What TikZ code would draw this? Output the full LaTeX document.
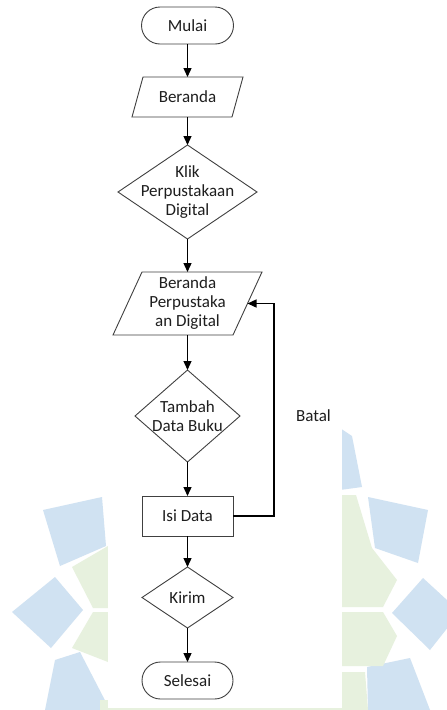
\documentclass[tikz,border=0pt]{standalone}
\usepackage{fontspec}
\setmainfont{Carlito}
\usetikzlibrary{shapes.geometric,shapes.misc,arrows.meta}
\definecolor{wmblue}{RGB}{208,226,242}
\definecolor{wmgreen}{RGB}{231,241,222}
\definecolor{outline}{RGB}{64,64,64}
\definecolor{ink}{RGB}{30,30,30}
\begin{document}
\begin{tikzpicture}[x=1pt,y=-1pt,
  txt/.style={font=\fontsize{17}{19}\selectfont, text=ink, align=center, inner sep=0pt},
  shapebase/.style={draw=outline, line width=0.9pt, fill=white, inner sep=0pt, outer sep=0pt},
  terminal/.style={shapebase, rounded rectangle, minimum width=92pt, minimum height=37pt},
  process/.style={shapebase, rectangle, minimum width=91pt, minimum height=40pt},
  decision/.style={shapebase, diamond},
  % body of a data box: the rectangle spans the mid-height width of the parallelogram
  iobody/.style={inner sep=0pt, outer sep=0pt, draw=none},
  ioline/.style={draw=outline, line width=0.9pt, fill=white},
  flow/.style={draw=black, line width=1.3pt, -{Triangle[length=9pt,width=8pt]}},
  wmb/.style={fill=wmblue, draw=none},
  wmg/.style={fill=wmgreen, draw=none}
]
\useasboundingbox (0,0) rectangle (447,710);
\fill[white] (0,0) rectangle (447,710);

% faint emblem in the background
\fill[wmb] (43,510) -- (102,497) -- (106,546) -- (60,566) -- cycle;
\fill[wmb] (12,612) -- (55,577) -- (83,610) -- (51,648) -- cycle;
\fill[wmb] (55,660) -- (80,652) -- (110,710) -- (45,710) -- cycle;
\fill[wmg] (72,567) -- (108,546) -- (108,608) -- (93,608) -- cycle;
\fill[wmg] (93,612) -- (108,612) -- (108,662) -- (72,648) -- cycle;
\fill[wmb] (340,428) -- (352,436) -- (362,487) -- (340,490) -- cycle;
\fill[wmb] (368,497) -- (428,510) -- (418,563) -- (375,548) -- cycle;
\fill[wmb] (392,613) -- (423,578) -- (460,612) -- (430,650) -- cycle;
\fill[wmb] (367,667) -- (410,658) -- (430,710) -- (368,710) -- cycle;
\fill[wmg] (340,495) -- (356,495) -- (372,548) -- (397,580) -- (383,607) -- (340,607) -- cycle;
\fill[wmg] (340,612) -- (383,612) -- (397,636) -- (383,666) -- (340,666) -- cycle;
\fill[wmg] (340,672) -- (365,672) -- (368,710) -- (340,710) -- cycle;
\fill[wmg] (100,700) rectangle (350,710);
\fill[white] (108,0) rectangle (342,708);

% flowchart nodes
\node[terminal, label={[txt]center:Mulai}] (mulai) at (187.5,25.5) {};

\node[iobody, minimum width=100pt, minimum height=40pt] (beranda) at (187.5,97) {};
\draw[ioline] ([xshift=-5.5pt]beranda.south west) -- ([xshift=5.5pt]beranda.north west)
  -- ([xshift=5.5pt]beranda.north east) -- ([xshift=-5.5pt]beranda.south east) -- cycle;
\node[txt] (berandaT) at (beranda) {Beranda};

\node[decision, minimum width=139pt, minimum height=94pt,
      label={[txt]center:{Klik\\Perpustakaan\\Digital}}] (klik) at (187.5,192) {};

\node[iobody, minimum width=120pt, minimum height=63pt] (bpd) at (187.5,303.5) {};
\draw[ioline] ([xshift=-14.5pt]bpd.south west) -- ([xshift=14.5pt]bpd.north west)
  -- ([xshift=14.5pt]bpd.north east) -- ([xshift=-14.5pt]bpd.south east) -- cycle;
\node[txt] (bpdT) at (bpd) {Beranda\\Perpustaka\\an Digital};

\node[decision, minimum width=105pt, minimum height=92pt,
      label={[txt]center:{Tambah\\Data Buku}}] (tambah) at (187.5,416) {};
\node[process, label={[txt]center:Isi Data}] (isi) at (187.5,516) {};
\node[decision, minimum width=91pt, minimum height=61pt,
      label={[txt]center:Kirim}] (kirim) at (187.5,597.5) {};
\node[terminal, minimum width=91pt, label={[txt]center:Selesai}] (selesai) at (187.5,680.5) {};
\node[txt] (batal) at (313.5,416) {Batal};

% connectors
\draw[flow] (mulai) -- (beranda);
\draw[flow] (beranda) -- (klik);
\draw[flow] (klik) -- (bpd);
\draw[flow] (bpd) -- (tambah);
\draw[flow] (tambah) -- (isi);
\draw[flow] (isi) -- (kirim);
\draw[flow] (kirim) -- (selesai);
\draw[flow] (isi.east) -- ++(41,0) |- (bpd.east);
\end{tikzpicture}
\end{document}
